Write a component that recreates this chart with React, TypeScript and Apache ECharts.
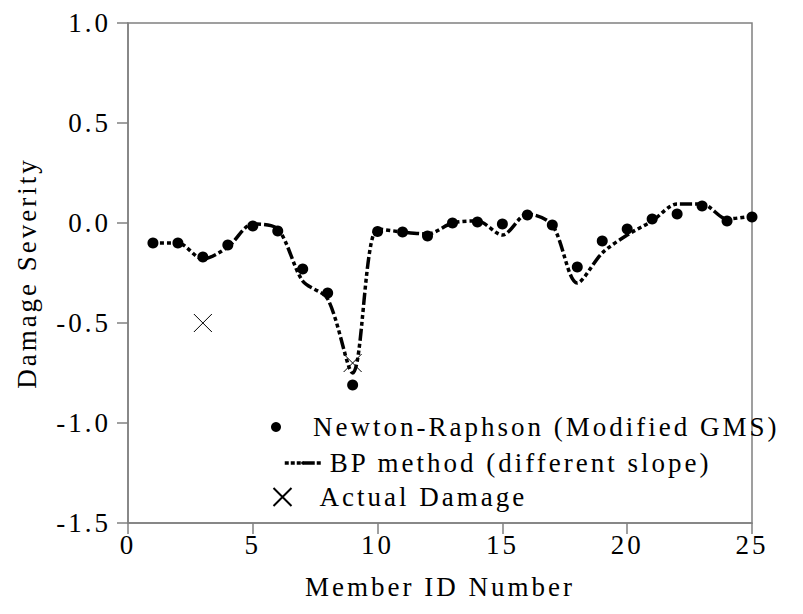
import React, { useEffect, useRef } from 'react';
import * as echarts from 'echarts';

const seriesNames = [
  'Newton-Raphson (Modified GMS)',
  'BP method (different slope)',
  'Actual Damage',
];
const members = [1, 2, 3, 4, 5, 6, 7, 8, 9, 10, 11, 12, 13, 14, 15, 16, 17, 18, 19, 20, 21, 22, 23, 24, 25];
const newtonRaphson = [
  -0.10, -0.10, -0.17, -0.11, -0.015, -0.04, -0.23, -0.35, -0.81, -0.043,
  -0.045, -0.065, 0.0, 0.005, -0.005, 0.04, -0.01, -0.22, -0.09, -0.03,
  0.02, 0.045, 0.085, 0.01, 0.03,
];
const bpMethod = [
  -0.10, -0.10, -0.18, -0.12, -0.005, -0.03, -0.29, -0.38, -0.75, -0.03,
  -0.045, -0.055, 0.0, 0.01, -0.06, 0.045, -0.01, -0.30, -0.15, -0.06,
  0.01, 0.095, 0.095, 0.02, 0.035,
];
const actualMembers = [3, 9];
const actualDamage = [-0.5, -0.7];

const FONT = 'Liberation Serif';
const AXIS_GREY = '#808080';

export default function App() {
  const ref = useRef<HTMLDivElement>(null);

  useEffect(() => {
    const chart = echarts.init(ref.current as HTMLDivElement, undefined, { renderer: 'svg' });
    const textStyle = { fontFamily: FONT, fontSize: 27, color: '#000' };
    const legendBase = {
      orient: 'vertical',
      padding: 0,
      selectedMode: false,
      itemWidth: 40,
    };
    chart.setOption({
      animation: false,
      backgroundColor: '#fff',
      textStyle: { fontFamily: FONT },
      grid: {
        left: 128,
        right: 51,
        top: 23,
        bottom: 91,
        show: true,
        borderColor: AXIS_GREY,
        borderWidth: 1.5,
        backgroundColor: 'transparent',
      },
      legend: [
        {
          ...legendBase,
          data: [seriesNames[0]],
          left: 271,
          top: 413,
          itemHeight: 10,
          textStyle: { ...textStyle, lineHeight: 28, padding: [0, 0, 0, 12] },
        },
        {
          ...legendBase,
          data: [seriesNames[1]],
          left: 283,
          top: 449,
          itemWidth: 36,
          itemHeight: 4,
          lineStyle: { width: 3.5, color: '#000', type: [4, 2, 4, 2, 4, 2, 12, 2] },
          textStyle: { ...textStyle, lineHeight: 28, padding: [0, 0, 0, 4] },
        },
        {
          ...legendBase,
          data: [seriesNames[2]],
          left: 271,
          top: 483,
          itemHeight: 18,
          textStyle: { ...textStyle, lineHeight: 28, padding: [0, 0, 0, 12] },
        },
      ],
      xAxis: {
        type: 'value',
        min: 0,
        max: 25,
        interval: 5,
        name: 'Member ID Number',
        nameLocation: 'middle',
        nameGap: 50,
        nameTextStyle: { ...textStyle, lineHeight: 28 },
        axisLine: { show: true, onZero: false, lineStyle: { color: AXIS_GREY, width: 1.5 } },
        axisTick: { show: true, length: 11, lineStyle: { color: AXIS_GREY, width: 1.5 } },
        axisLabel: { ...textStyle, margin: 8 },
        splitLine: { show: false },
      },
      yAxis: {
        type: 'value',
        min: -1.5,
        max: 1.0,
        interval: 0.5,
        name: 'Damage Severity',
        nameLocation: 'middle',
        nameGap: 87,
        nameRotate: 90,
        nameTextStyle: { ...textStyle, lineHeight: 28 },
        axisLine: { show: true, onZero: false, lineStyle: { color: AXIS_GREY, width: 1.5 } },
        axisTick: { show: true, length: 11, lineStyle: { color: AXIS_GREY, width: 1.5 } },
        axisLabel: {
          ...textStyle,
          margin: 17,
          formatter: (v: number) => v.toFixed(1),
        },
        splitLine: { show: false },
      },
      series: [
        {
          name: seriesNames[1],
          type: 'line',
          data: members.map((m, i) => [m, bpMethod[i]]),
          smooth: 0.3,
          showSymbol: false,
          symbol: 'none',
          lineStyle: { color: '#000', width: 3.5, type: [4, 3, 4, 3, 4, 3, 12, 3] },
          itemStyle: { color: '#000' },
          emphasis: { disabled: true },
          z: 2,
        },
        {
          name: seriesNames[0],
          type: 'scatter',
          data: members.map((m, i) => [m, newtonRaphson[i]]),
          symbol: 'circle',
          symbolSize: 11,
          itemStyle: { color: '#000', opacity: 1 },
          emphasis: { disabled: true },
          z: 3,
        },
        {
          name: seriesNames[2],
          type: 'scatter',
          data: actualMembers.map((m, i) => [m, actualDamage[i]]),
          symbol: 'path://M0,0L10,10M10,0L0,10',
          symbolKeepAspect: true,
          symbolSize: 18,
          itemStyle: { color: 'none', borderColor: '#000', borderWidth: 1, opacity: 1 },
          emphasis: { disabled: true },
          z: 4,
        },
      ],
    });
    return () => chart.dispose();
  }, []);

  return (
    <div
      ref={ref}
      style={{
        position: 'absolute',
        left: 0,
        top: 0,
        width: 803,
        height: 614,
        letterSpacing: '3px',
        background: '#fff',
      }}
    />
  );
}
